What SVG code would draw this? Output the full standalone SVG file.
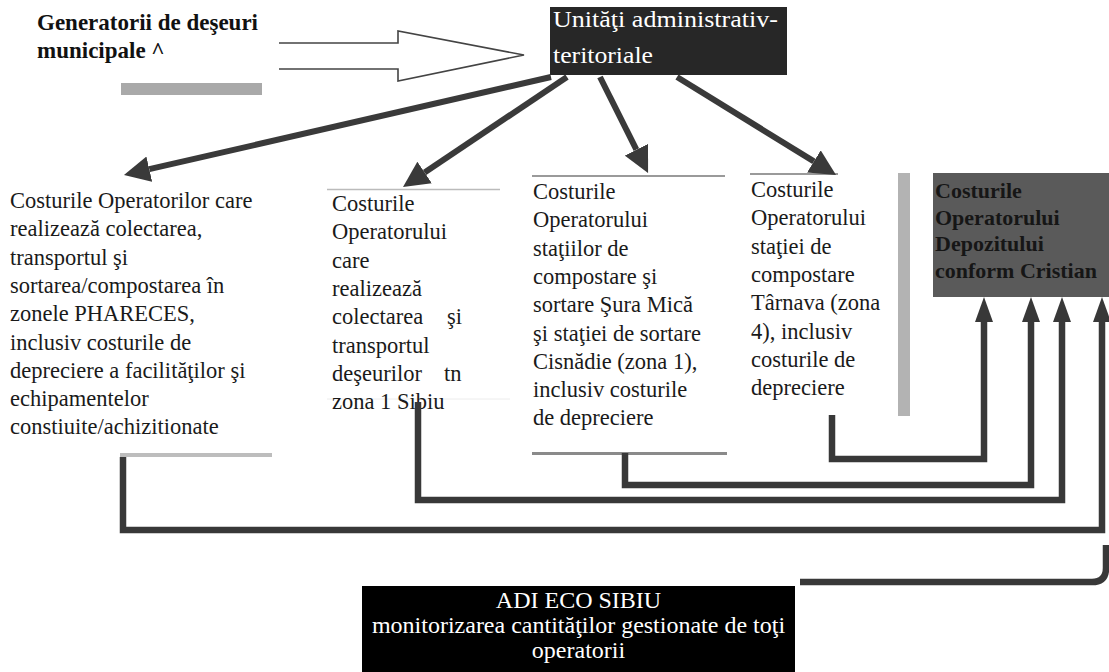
<svg xmlns="http://www.w3.org/2000/svg" width="1109" height="672" viewBox="0 0 1109 672">
<style>
.t{font-family:"Liberation Serif","Times New Roman",serif;font-size:22.5px;fill:#1a1a1a}
.b{font-family:"Liberation Serif","Times New Roman",serif;font-size:23px;font-weight:bold;fill:#111}
.w{font-family:"Liberation Serif","Times New Roman",serif;fill:#fff}
.dep{font-family:"Liberation Serif","Times New Roman",serif;font-size:22px;font-weight:bold;fill:#161616}
.th{fill:none;stroke:#383838;stroke-width:6.5;stroke-linejoin:miter;stroke-linecap:butt}
.ar{fill:none;stroke:#3a3a3a;stroke-width:6;stroke-linecap:butt}
.rule{stroke-linecap:butt}
</style>
<defs>
<marker id="hd" markerUnits="userSpaceOnUse" markerWidth="26" markerHeight="26" viewBox="0 0 26 26" refX="0" refY="13" orient="auto"><path d="M0,0 L26,13 L0,26 z" fill="#3a3a3a"/></marker>
<marker id="hu" markerUnits="userSpaceOnUse" markerWidth="25" markerHeight="18" viewBox="0 0 25 18" refX="0" refY="9" orient="auto"><path d="M0,0 L25,9 L0,18 z" fill="#383838"/></marker>
</defs>
<rect width="1109" height="672" fill="#fff"/>

<g id="generatorii">
<text class="b"><tspan x="37" y="30">Generatorii de deşeuri</tspan><tspan x="37" y="58">municipale ^</tspan></text>
<rect x="121" y="83" width="141" height="12" fill="#a9a9a9"/>
</g>

<g id="uat">
<rect x="550" y="7" width="237" height="68" fill="#272727"/>
<text class="w" font-size="24"><tspan x="553" y="27" textLength="225" lengthAdjust="spacingAndGlyphs">Unităţi administrativ-</tspan><tspan x="553" y="63" textLength="100" lengthAdjust="spacingAndGlyphs">teritoriale</tspan></text>
</g>

<g id="box1">
<text class="t"><tspan x="10" y="208">Costurile Operatorilor care</tspan><tspan x="10" y="236.3">realizează colectarea,</tspan><tspan x="10" y="264.6">transportul şi</tspan><tspan x="10" y="292.9">sortarea/compostarea în</tspan><tspan x="10" y="321.2">zonele PHARECES,</tspan><tspan x="10" y="349.5">inclusiv costurile de</tspan><tspan x="10" y="377.8">depreciere a facilităţilor şi</tspan><tspan x="10" y="406.1">echipamentelor</tspan><tspan x="10" y="434.4">constiuite/achizitionate</tspan></text>
<line class="rule" x1="120" y1="455" x2="272" y2="455" stroke="#bdbdbd" stroke-width="4"/>
</g>

<g id="box2">
<line class="rule" x1="327" y1="189.5" x2="500" y2="189.5" stroke="#bbb" stroke-width="1.5"/>
<line class="rule" x1="327" y1="399" x2="510" y2="399" stroke="#ececec" stroke-width="1"/>
<text class="t"><tspan x="332" y="211">Costurile</tspan><tspan x="332" y="239.3">Operatorului</tspan><tspan x="332" y="267.6">care</tspan><tspan x="332" y="295.9">realizează</tspan><tspan x="332" y="324.2">colectarea</tspan><tspan x="447" y="324.2">şi</tspan><tspan x="332" y="352.5">transportul</tspan><tspan x="332" y="380.8">deşeurilor</tspan><tspan x="444" y="380.8">tn</tspan><tspan x="332" y="409.1">zona 1 Sibiu</tspan></text>
</g>

<g id="box3">
<line class="rule" x1="532" y1="176" x2="725" y2="176" stroke="#9a9a9a" stroke-width="2"/>
<text class="t"><tspan x="533" y="199">Costurile</tspan><tspan x="533" y="227.3">Operatorului</tspan><tspan x="533" y="255.6">staţiilor de</tspan><tspan x="533" y="283.9">compostare şi</tspan><tspan x="533" y="312.2">sortare Şura Mică</tspan><tspan x="533" y="340.5">şi staţiei de sortare</tspan><tspan x="533" y="368.8">Cisnădie (zona 1),</tspan><tspan x="533" y="397.1">inclusiv costurile</tspan><tspan x="533" y="425.4">de depreciere</tspan></text>
<line class="rule" x1="532" y1="453.5" x2="727" y2="453.5" stroke="#8a8a8a" stroke-width="3"/>
</g>

<g id="box4">
<line class="rule" x1="750" y1="174" x2="838" y2="174" stroke="#9a9a9a" stroke-width="2"/>
<rect x="898" y="173" width="12" height="243" fill="#b3b3b3"/>
<text class="t"><tspan x="751" y="197">Costurile</tspan><tspan x="751" y="225.3">Operatorului</tspan><tspan x="751" y="253.6">staţiei de</tspan><tspan x="751" y="281.9">compostare</tspan><tspan x="751" y="310.2">Târnava (zona</tspan><tspan x="751" y="338.5">4), inclusiv</tspan><tspan x="751" y="366.8">costurile de</tspan><tspan x="751" y="395.1">depreciere</tspan></text>
</g>

<g id="depozit">
<rect x="933" y="173" width="176" height="124" fill="#5a5a5a"/>
<text class="dep"><tspan x="935" y="198">Costurile</tspan><tspan x="935" y="224.5">Operatorului</tspan><tspan x="935" y="251">Depozitului</tspan><tspan x="935" y="277.5">conform Cristian</tspan></text>
</g>

<g id="adi">
<rect x="362" y="586" width="433" height="86" fill="#000"/>
<text class="w" font-size="24" text-anchor="middle"><tspan x="578.5" y="608">ADI ECO SIBIU</tspan><tspan x="578.5" y="633">monitorizarea cantităţilor gestionate de toţi</tspan><tspan x="578.5" y="658">operatorii</tspan></text>
</g>

<g id="connectors">
<path d="M279,43 H398 V31 L524,55 L398,81 V69 H279" fill="none" stroke="#444" stroke-width="1.6" stroke-linejoin="miter"/>
<path class="ar" d="M551,77 L149.3,169.2" marker-end="url(#hd)"/>
<path class="ar" d="M567,77 L424.6,172.5" marker-end="url(#hd)"/>
<path class="ar" d="M600,77 L636.4,149.7" marker-end="url(#hd)"/>
<path class="ar" d="M677,77 L813.9,161.4" marker-end="url(#hd)"/>
<path class="th" d="M832,415 V459 H984 V322" marker-end="url(#hu)"/>
<path class="th" d="M625,453 V485 H1031 V322" marker-end="url(#hu)"/>
<path class="th" d="M418,402 V500 H1062 V322" marker-end="url(#hu)"/>
<path class="th" d="M123,457 V530 H1102 V322" marker-end="url(#hu)"/>
<path class="th" d="M800,582 H1092 Q1106,582 1106,568 V545"/>
</g>
</svg>
